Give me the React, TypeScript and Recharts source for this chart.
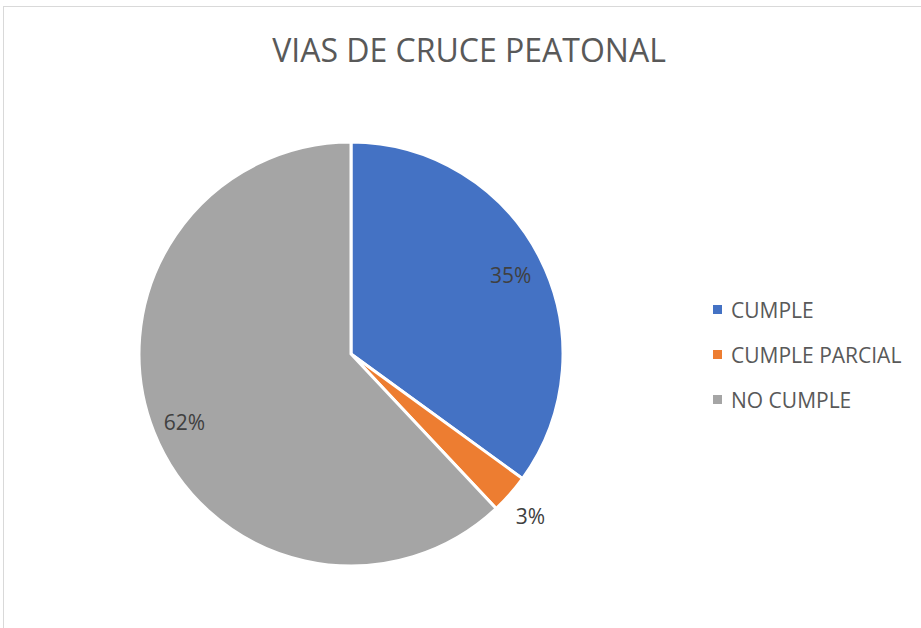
import { PieChart, Pie, Cell, Legend } from 'recharts';

const categories = ['CUMPLE', 'CUMPLE PARCIAL', 'NO CUMPLE'];
const values = [35, 3, 62];
const colors = ['#4472C4', '#ED7D31', '#A5A5A5'];

const data = categories.map((name, i) => ({ name, value: values[i] }));

const RAD = Math.PI / 180;

const renderLabel = (props: any) => {
  const { cx, cy, midAngle, outerRadius, percent } = props;
  const small = percent < 0.1;
  const r = small ? outerRadius + 30 : outerRadius * 0.845;
  const x = cx + r * Math.cos(-midAngle * RAD) - (small ? 2 : 0);
  const y = cy + r * Math.sin(-midAngle * RAD) + 2;
  return (
    <text
      x={x}
      y={y}
      fill="#404040"
      fontSize={21}
      fontFamily="'Open Sans', sans-serif"
      textAnchor="middle"
      dominantBaseline="central"
    >
      {`${Math.round(percent * 100)}%`}
    </text>
  );
};

const renderLegend = () => (
  <div style={{ fontFamily: "'Open Sans', sans-serif", fontSize: 21, color: '#595959' }}>
    {categories.map((c, i) => (
      <div key={c} style={{ display: 'flex', alignItems: 'center', height: 45 }}>
        <div style={{ width: 9, height: 9, background: colors[i], marginRight: 9 }} />
        <span>{c}</span>
      </div>
    ))}
  </div>
);

export default function App() {
  return (
    <div style={{ position: 'absolute', left: 0, top: 0, width: 921, height: 628, background: '#fff', overflow: 'hidden' }}>
      <div
        style={{
          position: 'absolute',
          left: 3,
          top: 6,
          width: 940,
          height: 640,
          border: '1px solid #d9d9d9',
          boxSizing: 'border-box',
        }}
      />
      <div
        style={{
          position: 'absolute',
          left: 0,
          top: 28,
          width: 938,
          textAlign: 'center',
          fontFamily: "'Open Sans', sans-serif",
          fontSize: 32,
          color: '#595959',
        }}
      >
        VIAS DE CRUCE PEATONAL
      </div>
      <PieChart
        width={921}
        height={628}
        margin={{ top: 0, right: 0, bottom: 0, left: 0 }}
        style={{ position: 'absolute', left: 0, top: 0 }}
      >
        <Pie
          data={data}
          dataKey="value"
          nameKey="name"
          cx={351}
          cy={354}
          outerRadius={212}
          startAngle={90}
          endAngle={-270}
          stroke="#ffffff"
          strokeWidth={3}
          label={renderLabel}
          labelLine={false}
          isAnimationActive={false}
        >
          {data.map((d, i) => (
            <Cell key={d.name} fill={colors[i]} />
          ))}
        </Pie>
        <Legend
          layout="vertical"
          align="right"
          verticalAlign="top"
          content={renderLegend}
          wrapperStyle={{ left: 713, top: 287, width: 200 }}
        />
      </PieChart>
    </div>
  );
}
